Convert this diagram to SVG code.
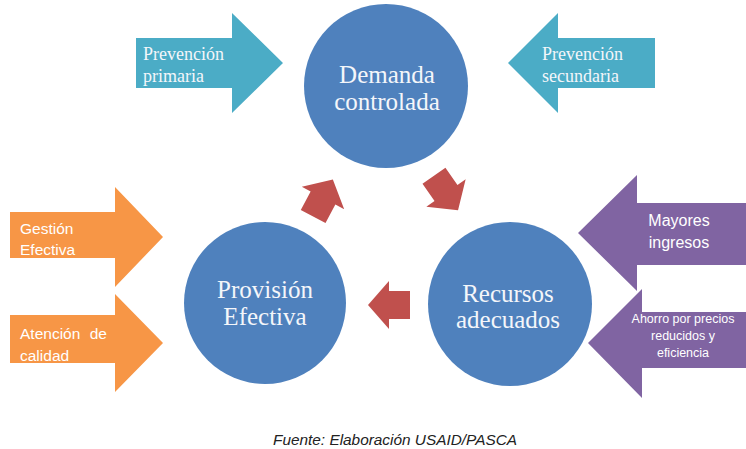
<svg xmlns="http://www.w3.org/2000/svg" width="746" height="449" viewBox="0 0 746 449">
<style>
.teal{fill:#4BACC6}
.orange{fill:#F79646}
.purple{fill:#8064A2}
.circle{fill:#4F81BD}
.red{fill:#C0504D}
.serif{font-family:"Liberation Serif","Times New Roman",serif;fill:#F4F6FA}
.sans{font-family:"Liberation Sans",Arial,sans-serif;fill:#FFFFFF}
.big{font-size:25px;text-anchor:middle}
.mid{font-size:18px}
</style>
<defs>
<polygon id="cyc" points="-21,-14 0,-14 0,-24 21,0 0,24 0,14 -21,14"/>
</defs>
<rect width="746" height="449" fill="#FFFFFF"/>

<g id="prevencion-primaria">
<polygon class="teal" points="136,38 232,38 232,13 283,63 232,113 232,88 136,88"/>
<text class="serif mid" x="143" y="60">Prevención</text>
<text class="serif mid" x="143" y="82">primaria</text>
</g>

<g id="prevencion-secundaria">
<polygon class="teal" points="655,38 558,38 558,13 508,63 558,113 558,88 655,88"/>
<text class="serif mid" x="542" y="60">Prevención</text>
<text class="serif mid" x="542" y="82">secundaria</text>
</g>

<g id="demanda-controlada">
<circle class="circle" cx="386" cy="86" r="82"/>
<text class="serif big" x="387" y="83">Demanda</text>
<text class="serif big" x="387" y="110">controlada</text>
</g>

<g id="provision-efectiva">
<circle class="circle" cx="265" cy="303" r="81"/>
<text class="serif big" x="265" y="298">Provisión</text>
<text class="serif big" x="265" y="325">Efectiva</text>
</g>

<g id="recursos-adecuados">
<circle class="circle" cx="510" cy="304" r="82"/>
<text class="serif big" x="508" y="302">Recursos</text>
<text class="serif big" x="508" y="328">adecuados</text>
</g>

<g id="gestion-efectiva">
<polygon class="orange" points="10,212 115,212 115,187 163,237 115,287 115,258 10,258"/>
<text class="sans" font-size="15.5" x="20" y="234">Gestión</text>
<text class="sans" font-size="15.5" x="20" y="255">Efectiva</text>
</g>

<g id="atencion-calidad">
<polygon class="orange" points="10,315 115,315 115,294 163,343 115,392 115,363 10,363"/>
<text class="sans" font-size="15.5" x="20" y="339" word-spacing="5">Atención de</text>
<text class="sans" font-size="15.5" x="20" y="361">calidad</text>
</g>

<g id="mayores-ingresos">
<polygon class="purple" points="746,203 637,203 637,175 578,233 637,291 637,265 746,265"/>
<text class="sans" font-size="16" x="679" y="226" text-anchor="middle">Mayores</text>
<text class="sans" font-size="16" x="679" y="248" text-anchor="middle">ingresos</text>
</g>

<g id="ahorro">
<polygon class="purple" points="746,312 642,312 642,289 588,343 642,398 642,368 746,368"/>
<text class="sans" font-size="12.5" x="683" y="323" text-anchor="middle">Ahorro por precios</text>
<text class="sans" font-size="12.5" x="683" y="340" text-anchor="middle">reducidos y</text>
<text class="sans" font-size="12.5" x="683" y="357" text-anchor="middle">eficiencia</text>
</g>

<g id="connectors">
<use href="#cyc" class="red" transform="translate(323,198) rotate(-62)"/>
<use href="#cyc" class="red" transform="translate(446,193) rotate(55)"/>
<use href="#cyc" class="red" transform="translate(389,305) rotate(180)"/>
</g>

<text x="273" y="445" font-family="'Liberation Sans',Arial,sans-serif" font-style="italic" font-size="15.5" fill="#222222" textLength="244" lengthAdjust="spacingAndGlyphs">Fuente: Elaboración USAID/PASCA</text>
</svg>
